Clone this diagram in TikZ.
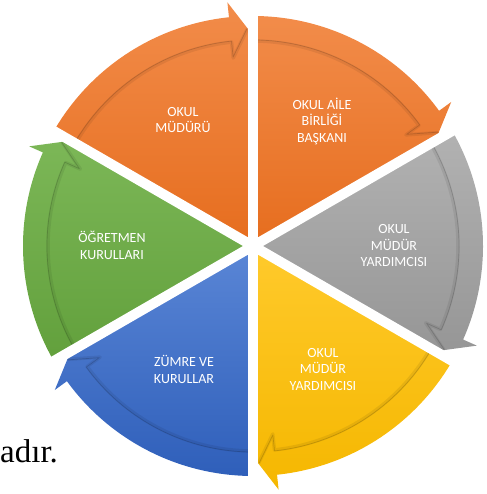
\documentclass[tikz,border=0pt]{standalone}
\usepackage{fontspec}
\setmainfont{Carlito}
\newfontfamily\docserif{Liberation Serif}
\definecolor{orT}{HTML}{F28C4A}
\definecolor{orB}{HTML}{E66D1E}
\definecolor{grT}{HTML}{B2B2B2}
\definecolor{grB}{HTML}{969696}
\definecolor{yeT}{HTML}{FFCA2C}
\definecolor{yeB}{HTML}{F5B700}
\definecolor{blT}{HTML}{5A86D6}
\definecolor{blB}{HTML}{2F5FBA}
\definecolor{gnT}{HTML}{7CB757}
\definecolor{gnB}{HTML}{62A03C}
\newcommand{\cycseg}[3]{%
  \shade[top color=#2, bottom color=#3]
    (0,0) -- (#1:212pt) -- ({#1+1.5}:218pt) -- ({#1+6}:245pt) -- ({#1+6}:230pt)
    arc[start angle={#1+6}, end angle={#1+60}, radius=230pt] -- cycle;
  \draw[softshadow] ({#1+60}:205pt) arc[start angle={#1+60}, end angle={#1+6}, radius=205pt]
    -- ({#1+6}:189pt) -- ({#1+1.5}:217pt);
  \draw[shadowline] ({#1+60}:206pt) arc[start angle={#1+60}, end angle={#1+6}, radius=206pt]
    -- ({#1+6}:190pt) -- ({#1+1.5}:218pt);
}
\begin{document}
\begin{tikzpicture}[x=1pt,y=1pt,
  lbl/.style={text=white, font=\fontsize{14}{16.5}\selectfont, align=center, inner sep=0pt},
  shadowline/.style={line width=0.7pt, draw=black, draw opacity=0.16, line join=round},
  softshadow/.style={line width=3.5pt, draw=black, draw opacity=0.07, line join=round},
  gapline/.style={draw=white, line width=10pt}]
\useasboundingbox (0,0) rectangle (486,494);
\begin{scope}[shift={(253,248)}]
  \cycseg{90}{orT}{orB}
  \cycseg{30}{orT}{orB}
  \cycseg{-30}{grT}{grB}
  \cycseg{-90}{yeT}{yeB}
  \cycseg{-150}{blT}{blB}
  \cycseg{150}{gnT}{gnB}
  \foreach \a in {90,30,-30,-90,-150,150}
    \draw[gapline] (0,0) -- (\a:252pt);
\end{scope}
\node[lbl] (mudur) at (183,374) {OKUL\\MÜDÜRÜ};
\node[lbl] (aile) at (322,373) {OKUL AİLE\\BİRLİĞİ\\BAŞKANI};
\node[lbl] (yard1) at (394,248) {OKUL\\MÜDÜR\\YARDIMCISI};
\node[lbl] (yard2) at (323,124.5) {OKUL\\MÜDÜR\\YARDIMCISI};
\node[lbl] (zumre) at (184,124.5) {ZÜMRE VE\\KURULLAR};
\node[lbl] (ogret) at (112,248.5) {ÖĞRETMEN\\KURULLARI};
\node[anchor=base west, inner sep=0pt, font=\docserif\fontsize{33}{36}\selectfont] (adir) at (0,31) {adır.};
\end{tikzpicture}
\end{document}
